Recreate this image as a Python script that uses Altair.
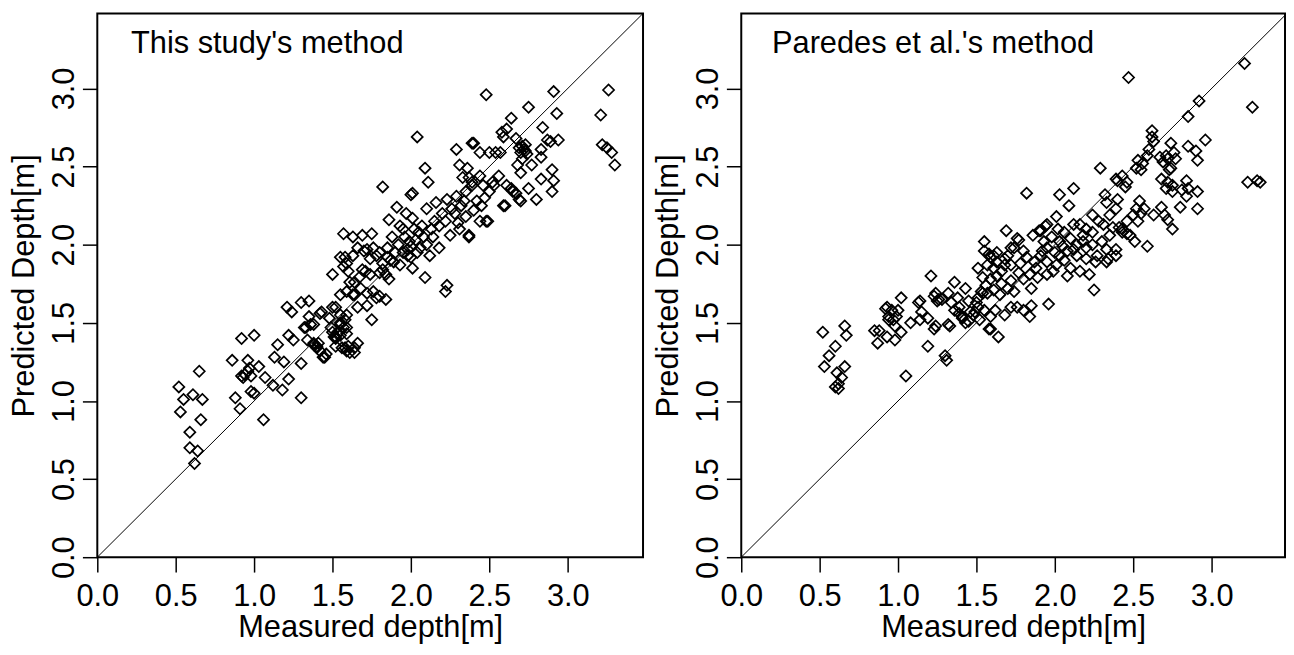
import altair as alt
import pandas as pd

FONT = "Liberation Sans"

tick_values = [0.0, 0.5, 1.0, 1.5, 2.0, 2.5, 3.0]
x_max_left = 3.48
x_max_right = 3.468
y_max = 3.48
panel_labels = ["This study's method", "Paredes et al.'s method"]
x_title = "Measured depth[m]"
y_title = "Predicted Depth[m]"

# ---- This study's method ----
study_measured = [
    0.52, 0.55, 0.61, 0.67, 0.53, 0.65, 0.66, 0.59, 0.59, 0.64, 0.62,
    0.86, 0.92, 1.00, 0.88, 0.91, 0.96, 0.92, 0.94, 0.96, 0.93, 0.97, 1.03, 0.98, 0.98, 1.00, 1.06,
    1.07, 1.12, 1.15, 1.13, 1.19, 1.18, 1.22, 1.21, 1.24, 1.22, 1.25,
    1.30, 1.35, 1.30, 1.30, 1.32, 1.35, 1.38, 1.34, 1.42, 1.44, 1.40, 1.41, 1.38, 1.46, 1.48, 1.52,
    1.52, 1.50, 1.36, 1.33, 1.43, 1.45, 1.42, 1.40, 1.38,
    1.53, 1.55, 1.57, 1.55, 1.58, 1.52, 1.58, 1.60, 1.64, 1.66, 1.61, 1.55, 1.59, 1.49, 1.55, 1.59,
    1.51, 1.55, 1.59, 1.50, 1.56, 1.59, 1.64,
    1.50, 1.55, 1.59, 1.57, 1.60, 1.58, 1.66, 1.70, 1.76, 1.80, 1.85, 1.89, 1.71, 1.74, 1.80, 1.84,
    1.86, 1.64, 1.59, 1.55, 1.64, 1.68, 1.72, 1.76, 1.80, 1.84, 1.66, 1.72, 1.75, 1.52, 1.57, 1.63,
    1.69, 1.75, 1.63, 1.72, 1.74, 1.78, 1.69, 1.82, 1.63, 1.78, 1.61, 1.67,
    1.82, 2.01, 2.04, 2.09, 2.11, 2.00, 1.91, 1.97, 1.86, 1.93, 2.01, 2.09, 2.23, 2.22, 1.93, 2.01,
    2.10, 2.16, 2.23, 1.99, 2.06, 2.12, 2.18, 2.25, 1.88, 1.92, 1.95, 1.98, 2.03, 2.05, 2.08, 2.13,
    2.15, 2.18, 2.20, 2.22, 1.85, 1.90, 1.96, 2.00, 2.04, 2.07, 2.10, 2.14, 1.82, 1.87, 2.02, 1.95,
    2.00, 1.98,
    2.29, 2.40, 2.48, 2.31, 2.36, 2.33, 2.37, 2.39, 2.44, 2.56, 2.53, 2.50, 2.59, 2.48, 2.37, 2.29,
    2.35, 2.39, 2.46, 2.52, 2.31, 2.37, 2.44, 2.49, 2.39, 2.44, 2.50, 2.54, 2.28, 2.32, 2.35, 2.40,
    2.42, 2.45, 2.30, 2.26, 2.34, 2.47,
    2.64, 2.75, 2.91, 2.93, 2.84, 2.94, 2.89, 2.87, 2.61, 2.59, 2.58, 2.67, 2.69, 2.72, 2.73, 2.70,
    2.74, 2.71, 2.68, 2.83, 2.83, 2.77, 2.70, 2.90, 2.91, 2.90, 2.83, 2.80, 2.75, 2.69, 2.70, 2.67,
    2.64, 2.60, 2.65, 2.61, 2.57, 3.21, 3.26, 3.22, 3.25, 3.28, 3.30, 2.73, 2.71,
]
study_predicted = [
    1.09, 1.01, 1.04, 1.01, 0.93, 1.19, 0.88, 0.80, 0.70, 0.68, 0.60,
    1.26, 1.40, 1.42, 1.02, 0.95, 1.26, 1.16, 1.17, 1.19, 1.15, 1.21, 1.22, 1.16, 1.06, 1.05, 0.88,
    1.15, 1.10, 1.36, 1.28, 1.25, 1.07, 1.14, 1.60, 1.57, 1.42, 1.39,
    1.63, 1.64, 1.02, 1.24, 1.47, 1.54, 1.49, 1.39, 1.56, 1.28, 1.35, 1.37, 1.36, 1.30, 1.53, 1.40,
    1.35, 1.60, 1.49, 1.47, 1.57, 1.28, 1.32, 1.34, 1.37,
    1.43, 1.45, 1.47, 1.50, 1.52, 1.41, 1.34, 1.35, 1.34, 1.37, 1.31, 1.55, 1.55, 1.47, 1.49, 1.47,
    1.41, 1.42, 1.43, 1.44, 1.34, 1.32, 1.31,
    1.81, 1.92, 1.88, 1.86, 1.83, 1.92, 1.98, 1.96, 1.98, 1.95, 1.92, 1.89, 1.83, 1.81, 1.82, 1.81,
    1.78, 1.76, 1.70, 1.68, 1.68, 1.72, 1.69, 1.70, 1.67, 1.65, 1.60, 1.61, 1.52, 1.60, 2.07, 2.05,
    2.06, 2.07, 1.93, 1.97, 1.91, 1.93, 1.84, 1.84, 1.68, 1.66, 1.76, 1.79,
    2.37, 2.33, 2.69, 2.49, 2.40, 2.32, 2.24, 2.20, 2.16, 1.87, 1.85, 1.79, 1.74, 1.70, 2.12, 2.17,
    2.23, 2.27, 2.29, 2.02, 1.98, 1.93, 1.98, 2.06, 2.05, 2.00, 1.95, 1.97, 2.03, 2.08, 2.05, 2.10,
    2.15, 2.12, 2.20, 2.15, 1.98, 1.95, 2.05, 1.92, 1.95, 2.12, 2.00, 2.05, 1.88, 1.90, 2.10, 2.10,
    1.99, 1.93,
    2.61, 2.65, 2.96, 2.51, 2.49, 2.43, 2.43, 2.40, 2.44, 2.44, 2.38, 2.34, 2.25, 2.15, 2.05, 2.31,
    2.34, 2.38, 2.38, 2.40, 2.10, 2.06, 2.15, 2.15, 2.65, 2.59, 2.59, 2.59, 2.20, 2.25, 2.18, 2.22,
    2.28, 2.25, 2.14, 2.23, 2.28, 2.30,
    2.81, 2.88, 2.98, 2.84, 2.75, 2.67, 2.66, 2.67, 2.74, 2.69, 2.72, 2.68, 2.62, 2.61, 2.64, 2.59,
    2.58, 2.55, 2.51, 2.61, 2.56, 2.51, 2.46, 2.48, 2.41, 2.34, 2.42, 2.29, 2.36, 2.29, 2.28, 2.33,
    2.36, 2.25, 2.34, 2.38, 2.59, 2.83, 2.99, 2.64, 2.62, 2.59, 2.51, 2.60, 2.63,
]

# ---- Paredes et al.'s method ----
paredes_measured = [
    0.52, 0.66, 0.67, 0.60, 0.56, 0.53, 0.66, 0.61, 0.64, 0.62, 0.62, 0.60,
    0.85, 0.87, 0.98, 1.02, 0.92, 0.96, 0.94, 0.97, 1.00, 0.94, 0.98, 1.02, 1.08, 1.14, 1.15, 1.14,
    1.19, 1.19, 1.23, 1.21, 1.24, 1.05, 0.93, 0.88, 1.13, 0.99, 0.93, 1.26, 1.23,
    1.25, 1.28, 1.32, 1.36, 1.43, 1.38, 1.34, 1.33, 1.30, 1.31, 1.36, 1.41, 1.45, 1.39, 1.49, 1.51,
    1.55, 1.59, 1.58, 1.64, 1.45, 1.51, 1.53, 1.57, 1.46, 1.50, 1.54, 1.56, 1.32, 1.24, 1.41, 1.39,
    1.59, 1.48, 1.52, 1.43,
    1.55, 1.59, 1.63, 1.57, 1.61, 1.68, 1.72, 1.55, 1.69, 1.76, 1.72, 1.80, 1.86, 1.51, 1.54, 1.59,
    1.63, 1.72, 1.77, 1.80, 1.84, 1.85, 1.85, 1.84, 1.80, 1.76, 1.62, 1.68, 1.72, 1.61, 1.65, 1.70,
    1.58, 1.61, 1.63, 1.77, 1.70, 1.68, 1.96, 1.66, 1.74, 1.78, 1.82, 1.88, 1.66, 1.74,
    1.82, 1.94, 1.90, 1.95, 1.91, 2.03, 2.12, 2.09, 2.01, 2.25, 2.24, 2.16, 2.12, 2.20, 2.24, 2.18,
    2.10, 2.03, 2.14, 2.20, 2.24, 2.08, 2.14, 2.20, 2.03, 1.95, 1.91, 1.87, 1.95, 2.01, 2.10, 2.16,
    2.22, 1.95, 2.27, 2.26, 1.98, 2.06, 1.92, 2.00, 2.05, 1.89, 1.99, 2.06, 2.12, 2.18, 1.93, 2.08,
    2.02,
    2.29, 2.39, 2.43, 2.46, 2.45, 2.40, 2.53, 2.52, 2.59, 2.56, 2.60, 2.55, 2.54, 2.57, 2.50, 2.53,
    2.46, 2.39, 2.35, 2.33, 2.40, 2.31, 2.37, 2.43, 2.48, 2.51, 2.35, 2.30, 2.33, 2.34, 2.39, 2.39,
    2.33, 2.59, 2.47, 2.41, 2.43, 2.46, 2.52, 2.55, 2.28, 2.32,
    2.62, 2.62, 2.63, 2.74, 2.76, 2.71, 2.77, 2.67, 2.69, 2.73, 2.68, 2.72, 2.75, 2.71, 2.75, 2.84,
    2.85, 2.84, 2.91, 2.81, 2.80, 2.91, 2.68, 2.70, 2.72, 2.75, 2.63, 2.85, 2.92, 2.96, 2.85, 2.90,
    2.91, 3.21, 3.26, 3.23, 3.29, 3.31, 2.74, 2.72,
]
paredes_predicted = [
    1.44, 1.48, 1.42, 1.35, 1.29, 1.22, 1.22, 1.18, 1.15, 1.11, 1.08, 1.09,
    1.45, 1.37, 1.39, 1.66, 1.59, 1.58, 1.54, 1.52, 1.58, 1.52, 1.48, 1.44, 1.50, 1.64, 1.57, 1.52,
    1.53, 1.35, 1.46, 1.80, 1.69, 1.16, 1.41, 1.45, 1.63, 1.54, 1.60, 1.65, 1.67,
    1.64, 1.65, 1.69, 1.76, 1.72, 1.66, 1.63, 1.48, 1.29, 1.26, 1.58, 1.54, 1.51, 1.60, 1.57, 1.60,
    1.58, 1.54, 1.46, 1.41, 1.64, 1.66, 1.70, 1.69, 1.57, 1.63, 1.69, 1.74, 1.49, 1.48, 1.53, 1.56,
    1.46, 1.55, 1.52, 1.50,
    1.96, 1.92, 1.89, 1.87, 1.85, 1.91, 1.87, 2.02, 2.09, 2.04, 1.98, 1.96, 2.06, 1.85, 1.79, 1.78,
    1.80, 1.77, 1.82, 1.78, 1.81, 1.72, 1.61, 1.54, 1.58, 1.60, 1.58, 1.55, 1.60, 1.71, 1.68, 1.72,
    1.94, 1.93, 1.95, 2.03, 1.93, 1.87, 1.62, 1.75, 1.70, 1.88, 1.92, 1.85, 1.83, 1.98,
    2.33, 2.12, 2.09, 2.13, 2.09, 2.32, 2.36, 2.25, 2.18, 1.71, 2.19, 2.13, 2.13, 2.10, 2.08, 2.06,
    2.04, 2.02, 2.00, 1.98, 2.00, 1.96, 1.93, 1.91, 1.93, 1.98, 1.93, 1.89, 1.89, 1.87, 1.85, 1.83,
    1.81, 1.81, 1.93, 1.89, 2.05, 2.08, 1.96, 1.95, 1.99, 1.79, 1.83, 1.90, 1.97, 2.02, 2.02, 1.80,
    2.10,
    2.49, 2.42, 2.44, 2.40, 2.37, 2.41, 2.54, 2.49, 2.57, 2.52, 2.61, 2.48, 2.28, 2.23, 2.19, 2.15,
    2.15, 2.23, 2.19, 2.27, 2.29, 2.13, 2.11, 2.10, 2.06, 2.02, 2.06, 2.02, 1.97, 1.91, 1.97, 1.93,
    1.89, 1.99, 3.07, 2.11, 2.08, 2.07, 2.23, 2.20, 2.15, 2.32,
    2.73, 2.69, 2.66, 2.65, 2.59, 2.57, 2.55, 2.56, 2.53, 2.48, 2.42, 2.40, 2.38, 2.36, 2.34, 2.41,
    2.36, 2.31, 2.34, 2.35, 2.24, 2.23, 2.24, 2.19, 2.16, 2.10, 2.19, 2.82, 2.92, 2.67, 2.63, 2.60,
    2.54, 3.16, 2.88, 2.40, 2.41, 2.40, 2.49, 2.55,
]

PLOT_H = 548


def panel(measured, predicted, label, x_max, width, label_x):
    df = pd.DataFrame({"measured": measured, "predicted": predicted})
    xs = alt.Scale(domain=[0, x_max], nice=False, zero=False)
    ys = alt.Scale(domain=[0, y_max], nice=False, zero=False)
    x_axis = alt.Axis(
        values=tick_values, format=".1f", title=x_title,
        tickSize=15, labelPadding=10, labelBaseline="top", labelFlush=False,
        titleX=width / 2, titleY=80, titleBaseline="alphabetic", titleAlign="center",
    )
    y_axis = alt.Axis(
        values=tick_values, format=".1f", title=y_title,
        tickSize=15, labelPadding=9, labelAngle=270, labelAlign="center",
        labelBaseline="alphabetic", labelFlush=False,
        titleAngle=270, titleX=-64, titleY=PLOT_H / 2, titleBaseline="alphabetic",
        titleAlign="center",
    )
    pts = alt.Chart(df).mark_point(
        shape="diamond", filled=False, size=125, strokeWidth=1.7,
        color="black", opacity=1,
    ).encode(
        x=alt.X("measured:Q", scale=xs, axis=x_axis),
        y=alt.Y("predicted:Q", scale=ys, axis=y_axis),
    )
    diag_df = pd.DataFrame({"a": [0.0], "b": [y_max]})
    diag = alt.Chart(diag_df).mark_rule(color="black", strokeWidth=1, clip=True).encode(
        x=alt.X("a:Q", scale=xs), y=alt.Y("a:Q", scale=ys),
        x2="b:Q", y2="b:Q",
    )
    txt = alt.Chart(pd.DataFrame({"label": [label]})).mark_text(
        align="left", baseline="alphabetic", fontSize=31, font=FONT, color="black",
    ).encode(text="label:N", x=alt.value(label_x), y=alt.value(40))
    return alt.layer(diag, pts, txt).properties(width=width, height=PLOT_H)


left = panel(study_measured, study_predicted, panel_labels[0], x_max_left, 550, 34)
right = panel(paredes_measured, paredes_predicted, panel_labels[1], x_max_right, 548, 31)

chart = alt.hconcat(left, right, spacing=8).properties(
    padding={"left": 0, "top": 2, "right": 0, "bottom": 0},
    background="white",
).configure_view(
    stroke="black", strokeWidth=2,
).configure_axis(
    labelFont=FONT, titleFont=FONT, labelFontSize=31, titleFontSize=31,
    titleFontWeight="normal", labelColor="black", titleColor="black",
    tickColor="black", tickWidth=1.5, grid=False, domain=False,
)

chart.save("out.html", embed_options={"renderer": "svg", "actions": False})
